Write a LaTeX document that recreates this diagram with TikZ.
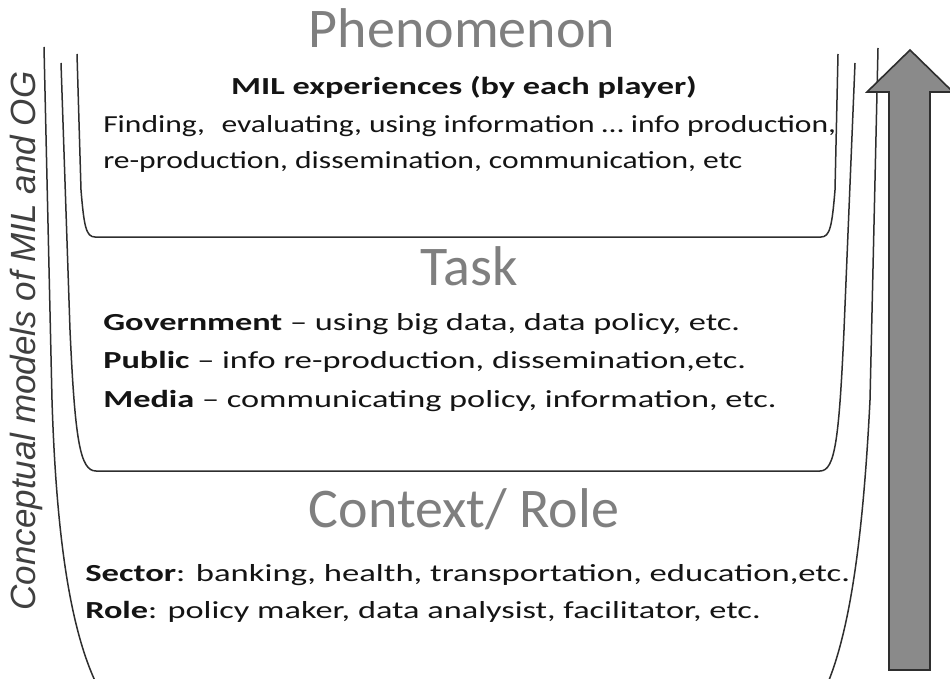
\documentclass[tikz,border=0pt]{standalone}
\usepackage{fontspec}
\setmainfont{Carlito}
\newfontfamily\arialfont{Liberation Sans}
\definecolor{headgray}{HTML}{7F7F7F}
\definecolor{arrowgray}{HTML}{8A8A8A}
\definecolor{linegray}{HTML}{2E2E2E}
\tikzset{
  heading/.style={font=\fontsize{56}{60}\selectfont, text=headgray, anchor=base, inner sep=0pt},
  bodyline/.style={font=\fontsize{24.5}{28}\selectfont, text=black!92, anchor=base west,
                   inner sep=0pt, xscale=1.4},
  cup/.style={draw=linegray, line width=1.5pt, line join=round},
}
\begin{document}
\begin{tikzpicture}[x=1pt,y=-1pt]
  %%% page frame
  \clip (0,0) rectangle (950,679);
  \fill[white] (0,0) rectangle (950,679);
  %%% the three cups, outermost first
  \draw[cup] (44,47) -- (52,400) .. controls (57,560) and (75,650) .. (105,700)
    -- (820,700) .. controls (846,650) and (862,560) .. (870,400) -- (878,48);
  \draw[cup] (61,63) -- (70,330) .. controls (75,440) and (80,471) .. (96,471)
    -- (820,471) .. controls (835,471) and (839,440) .. (844,330) -- (855,63);
  \draw[cup] (77,54) -- (81,190) .. controls (84,226) and (86,237) .. (95,237)
    -- (821,237) .. controls (830,237) and (832,226) .. (835,190) -- (838,54);
  %%% arrow on the right
  \draw[fill=arrowgray, draw=linegray, line width=1.6pt, line join=miter]
    (889,670) -- (889,92) -- (867,92) -- (910,50) -- (953,92) -- (930,92) -- (930,670) -- cycle;
  %%% side label
  \node[rotate=90, anchor=base, inner sep=0pt, text=black!75,
        font=\arialfont\itshape\fontsize{35}{40}\selectfont] (side) at (35,341)
    {Conceptual models of MIL and OG};
  %%% Phenomenon
  \node[heading] (phen) at (462,48) {Phenomenon};
  \node[bodyline, anchor=base, font=\bfseries\fontsize{24.5}{28}\selectfont] (mil) at (464,95)
    {MIL experiences (by each player)};
  \node[bodyline, xscale=0.92] (phen1) at (103,133) {Finding,\hspace{0.3em} evaluating, using information … info production,};
  \node[bodyline, xscale=0.92] (phen2) at (103,169) {re-production, dissemination, communication, etc};
  %%% Task
  \node[heading] (task) at (469,285) {Task};
  \node[bodyline] (gov) at (103,330) {\textbf{Government} -- using big data, data policy, etc.};
  \node[bodyline] (pub) at (103,368) {\textbf{Public} -- info re-production, dissemination,etc.};
  \node[bodyline] (med) at (103,407) {\textbf{Media} -- communicating policy, information, etc.};
  %%% Context / Role
  \node[heading] (ctx) at (464,527) {Context/ Role};
  \node[bodyline, xscale=1.01] (sec) at (85,581) {\textbf{Sector}: banking, health, transportation, education,etc.};
  \node[bodyline] (rol) at (85,618) {\textbf{Role}: policy maker, data analysist, facilitator, etc.};
\end{tikzpicture}
\end{document}
